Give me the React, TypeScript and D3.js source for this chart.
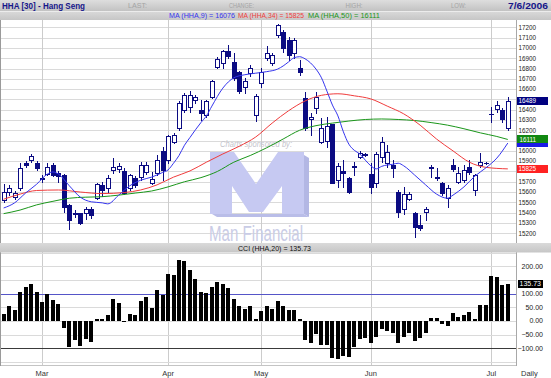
import React from "react";
import * as d3 from "d3";

// ---------- data ----------
const opens = [15520,15600,15550,15640,15885,15910,15885,15740,15780,15860,
15785,15765,15475,15385,15395,15400,15440,15545,15670,15635,
15815,15820,15800,15640,15735,15745,15795,15690,15785,16000,
15910,16090,16220,16395,16430,16495,16395,16350,16520,16820,
16850,16975,16860,16770,16625,16755,16350,16655,16905,16850,
17125,17160,17080,16950,16810,16510,16305,16415,16090,16095,
16260,15715,15805,15735,15855,15940,15965,15775,15685,15945,
15880,15860,15605,15440,15530,15400,15280,15410,15845,15750,
15690,15540,15860,15700,15715,15840,15620,15860,15880,16360,
16405,16395,16220];
const highs = [15680,15670,15610,15880,15900,15970,15900,15765,15880,15880,
15800,15775,15480,15425,15400,15450,15450,15690,15700,15770,
15930,15885,15830,15780,15760,15895,15895,15795,15960,16035,
16155,16170,16480,16565,16585,16545,16495,16495,16690,16910,
16980,17030,16950,16780,16705,16830,16555,16805,17015,16955,
17235,17175,17110,17095,16885,16575,16370,16575,16320,16330,
16265,15880,15910,15745,15895,16000,15975,15880,15990,16135,
16055,15910,15620,15650,15600,15410,15375,15450,15860,15830,
15700,15670,15920,15840,15860,15910,15780,15975,15890,16430,
16480,16415,16525];
const lows = [15500,15570,15535,15620,15840,15890,15815,15700,15770,15755,
15700,15405,15240,15355,15290,15340,15350,15530,15560,15600,
15785,15795,15580,15620,15650,15715,15780,15680,15770,15715,
15880,16075,16200,16380,16380,16470,16300,16330,16510,16805,
16805,16900,16690,16560,16560,16730,16290,16625,16885,16830,
17110,16960,16885,16900,16740,16205,16155,16365,16075,16035,
15685,15650,15645,15590,15765,15930,15950,15590,15650,15890,
15845,15745,15360,15390,15520,15165,15230,15325,15750,15715,
15570,15455,15805,15685,15700,15780,15570,15845,15870,16285,
16380,16285,16205];
const closes = [15600,15640,15590,15835,15860,15950,15830,15725,15845,15765,
15760,15455,15325,15400,15295,15440,15375,15675,15620,15735,
15845,15850,15590,15765,15670,15860,15860,15725,15910,15815,
16140,16155,16465,16545,16545,16525,16370,16480,16675,16895,
16975,16925,16705,16585,16680,16805,16535,16770,16950,16930,
17225,17000,16930,17080,16770,16220,16330,16520,16220,16240,
15690,15855,15785,15605,15845,15980,15960,15645,15970,16090,
15990,15835,15410,15585,15585,15260,15250,15440,15830,15735,
15595,15635,15820,15785,15815,15795,15765,15895,15885,16355,
16445,16305,16489];

const cci = [27,54,39,107,125,137,105,69,99,77,
62,-24,-95,-69,-92,-65,-77,8,6,24,
80,65,2,27,21,75,87,48,115,95,
173,170,225,218,188,154,105,104,123,144,
136,120,80,54,45,54,6,38,56,45,
74,54,42,42,6,-71,-80,-48,-89,-87,
-135,-140,-127,-133,-95,-65,-62,-80,-57,-30,
-36,-42,-80,-60,-42,-74,-63,-45,12,10,
-10,-18,30,14,21,32,8,60,57,164,
162,133,135.73];

// moving averages (bar index -> value)
const ma9Idx = [0,2,4,6,8,9,10,12,14,16,18,19,21,23,25,27,29,30,31,32,33,34,35,36,37,38,40,41,42,44,46,48,50,51,52,53,54,55,56,57,58,59,60,61,62,63,64,65,66,67,68,69,71,72,73,75,77,79,81,82,84,86,88,90,92];
const ma9Val = [15445,15495,15590,15675,15775,15795,15775,15660,15550,15505,15495,15485,15570,15660,15715,15745,15790,15815,15880,15955,16055,16130,16205,16275,16340,16435,16610,16670,16710,16740,16755,16770,16795,16825,16865,16905,16915,16895,16855,16795,16710,16580,16445,16340,16185,16065,16005,15970,15910,15855,15825,15850,15870,15880,15855,15765,15670,15580,15540,15570,15650,15755,15835,15930,16076];
const ma34Idx = [0,3,6,10,14,18,22,25,28,31,34,37,40,43,46,49,52,55,58,61,64,67,70,73,76,79,82,85,88,92];
const ma34Val = [15530,15580,15615,15620,15600,15585,15595,15620,15670,15745,15805,15890,15970,16045,16135,16270,16390,16485,16540,16555,16535,16505,16435,16360,16250,16115,16000,15890,15840,15825];
const ma50Idx = [0,3,6,9,12,15,18,21,24,27,30,33,36,39,42,45,48,51,54,57,60,63,66,69,72,75,78,81,84,87,90,92];
const ma50Val = [15390,15425,15475,15510,15540,15550,15555,15570,15590,15610,15650,15700,15740,15800,15890,15955,16030,16115,16200,16245,16270,16290,16305,16310,16305,16295,16275,16250,16215,16175,16140,16111];

const monthLabels = ["Mar", "Apr", "May", "Jun", "Jul"];
const monthStart = [7, 30, 47, 67, 89];
const priceTicks = [15200,15300,15400,15500,15600,15700,15800,15900,16000,16100,16200,16300,16400,16500,16600,16700,16800,16900,17000,17100,17200];
const cciTicks = [200, 150, 100, 50, 0, -50, -100];
const cciGrid = [250, 200, 150, 50, 0, -50, -150];

const titleText = "HHA [30] - Hang Seng";
const dateText = "7/6/2006";
const headerFields = ["LAST:", "CHANGE:", "HIGH:", "LOW:"];

// ---------- drawing ----------
const FONT = "'Liberation Sans', Arial, Helvetica, sans-serif";
const NAVY = "#0b0b82";
const BLUE = "#3535ee";
const RED = "#f03c3c";
const GREEN = "#1a961a";

export default function App() {
  const W = 551, H = 378;
  const plotR = 517;
  const n = closes.length;
  const x = d3.scaleLinear().domain([0, n - 1]).range([3.64, 507.8]);
  const y = d3.scaleLinear().domain([15200, 17200]).range([233.2, 27.4]);
  const yc = d3.scaleLinear().domain([-100, 200]).range([348.4, 266.4]);
  const snap = (v: number) => Math.round(v) + 0.5;

  const maPath = (idx: number[], vals: number[]) =>
    d3.line<number>().x((_, k) => x(idx[k])).y((v) => y(v)).curve(d3.curveMonotoneX)(vals) || "";

  const fmt2 = d3.format(".2f");
  const last = n - 1;
  const ma9Last = ma9Val[ma9Val.length - 1];
  const ma34Last = ma34Val[ma34Val.length - 1];
  const ma50Last = ma50Val[ma50Val.length - 1];
  const cciLast = cci[last];

  const headerX = [128, 229, 345.5, 451];
  const headerLen = [19, 25, 17, 15];

  // values shown in boxes on the price axis; ticks hidden under them are skipped
  const boxVals = [closes[last], ma9Last, ma50Last, ma34Last];
  const visibleTicks = priceTicks.filter((t) => boxVals.every((b) => Math.abs(y(t) - y(b)) > 5.5));
  const cciVisibleTicks = cciTicks.filter((t) => Math.abs(yc(t) - yc(cciLast)) > 5.5);

  const priceBox = (v: number, fill: string, key: string, label: boolean) => {
    const yy = y(v);
    return (
      <g key={key}>
        <rect x={517} y={Math.round(yy) - 4} width={31} height={8} fill={fill} shapeRendering="crispEdges" />
        {label && <text x={536} y={yy + 2.3} fontSize={6.3} fill="#fff" textAnchor="end">{Math.round(v)}</text>}
      </g>
    );
  };

  return (
    <svg width={W} height={H} viewBox={`0 0 ${W} ${H}`} style={{ position: "absolute", left: 0, top: 0, display: "block" }} fontFamily={FONT}>
      <defs>
        <linearGradient id="hdr1" x1="0" y1="0" x2="0" y2="1">
          <stop offset="0" stopColor="#dedede" />
          <stop offset="1" stopColor="#c2c2c2" />
        </linearGradient>
        <linearGradient id="hdr2" x1="0" y1="0" x2="0" y2="1">
          <stop offset="0" stopColor="#dadada" />
          <stop offset="1" stopColor="#c6c6c6" />
        </linearGradient>
        <clipPath id="plotClip"><rect x={1} y={20} width={plotR - 1} height={222} /></clipPath>
      </defs>
      <rect x={0} y={0} width={W} height={H} fill="#fff" />

      {/* grid */}
      <g shapeRendering="crispEdges">
        {priceTicks.map((t) => (
          <line key={"pg" + t} x1={1} x2={plotR} y1={snap(y(t))} y2={snap(y(t))} stroke="#dadada" />
        ))}
        {monthStart.map((m, k) => (
          <g key={"vg" + k}>
            <line x1={snap(x(m))} x2={snap(x(m))} y1={20} y2={243} stroke="#cccccc" />
            <line x1={snap(x(m))} x2={snap(x(m))} y1={252} y2={366} stroke="#cccccc" />
          </g>
        ))}
        {cciGrid.map((t) => (
          <line key={"cg" + t} x1={1} x2={plotR} y1={snap(yc(t))} y2={snap(yc(t))} stroke="#dadada" />
        ))}
        <line x1={1} x2={plotR} y1={snap(yc(100))} y2={snap(yc(100))} stroke="#5555c8" />
        <line x1={1} x2={plotR} y1={snap(yc(-100))} y2={snap(yc(-100))} stroke="#3a3a3a" />
        <line x1={0} x2={plotR} y1={365.5} y2={365.5} stroke="#c4c4c4" />
        <line x1={0.5} x2={0.5} y1={20} y2={366} stroke="#9a9a9a" />
        <line x1={516.5} x2={516.5} y1={20} y2={243} stroke="#a8a8a8" />
        <line x1={516.5} x2={516.5} y1={252} y2={366} stroke="#a8a8a8" />
      </g>

      {/* watermark */}
      <g>
        <text x={220} y={147} fontSize={8.5} fontStyle="italic" fill="#c4c4cc" textLength={72} lengthAdjust="spacingAndGlyphs">Charts sponsored by:</text>
        <polygon points="304,155 309,158 309,217 304,214" fill="#b3b7e4" />
        <polygon points="212,214 304,214 309,217 217,217" fill="#b9bde8" />
        <polygon points="210,152 234,152 256,184 278,152 304,152 304,214 282,214 282,186 263,212 249,212 232,186 232,214 210,214" fill="#c6c9f2" />
        <text x={209} y={241} fontSize={22} fill="#c9cce6" textLength={94} lengthAdjust="spacingAndGlyphs">Man Financial</text>
      </g>

      {/* candles */}
      <g shapeRendering="crispEdges">
        {closes.map((c, i) => {
          const o = opens[i], h = highs[i], l = lows[i];
          const cx = Math.round(x(i));
          const up = c >= o;
          const yTop = snap(y(Math.max(o, c)));
          const yBot = snap(y(Math.min(o, c)));
          return (
            <g key={"c" + i}>
              <line x1={cx + 0.5} x2={cx + 0.5} y1={Math.round(y(h))} y2={Math.round(y(l)) + 1} stroke={NAVY} />
              {yBot - yTop < 1 ? (
                <line x1={cx - 2} x2={cx + 3} y1={yTop} y2={yTop} stroke={NAVY} />
              ) : (
                <rect x={cx - 1.5} y={yTop} width={4} height={yBot - yTop} fill={up ? "#ffffff" : NAVY} stroke={NAVY} />
              )}
            </g>
          );
        })}
      </g>

      {/* moving averages */}
      <g clipPath="url(#plotClip)" fill="none" strokeWidth={1}>
        <path d={maPath(ma50Idx, ma50Val)} stroke={GREEN} />
        <path d={maPath(ma34Idx, ma34Val)} stroke={RED} />
        <path d={maPath(ma9Idx, ma9Val)} stroke={BLUE} />
      </g>

      {/* CCI bars */}
      <g shapeRendering="crispEdges">
        {cci.map((v, i) => {
          const cx = Math.round(x(i));
          const y0 = Math.round(yc(0));
          const yv = Math.round(yc(v));
          return <rect key={"b" + i} x={cx - 2} y={Math.min(y0, yv)} width={4} height={Math.max(1, Math.abs(yv - y0))} fill="#000" />;
        })}
      </g>

      {/* header bars */}
      <rect x={0} y={0} width={W} height={11} fill="url(#hdr1)" />
      <rect x={0} y={11} width={W} height={9} fill="url(#hdr2)" />
      <line x1={0} x2={W} y1={11.5} y2={11.5} stroke="#ececec" shapeRendering="crispEdges" />
      <text x={2} y={8.6} fontSize={9} fontWeight="bold" fill="#16168a" textLength={83} lengthAdjust="spacingAndGlyphs">{titleText}</text>
      {headerFields.map((f, k) => (
        <text key={f} x={headerX[k]} y={8.3} fontSize={7} fill="#a4a4a4" textLength={headerLen[k]} lengthAdjust="spacingAndGlyphs">{f}</text>
      ))}
      <text x={508} y={8.6} fontSize={9} fontWeight="bold" fill="#16168a" textLength={40} lengthAdjust="spacingAndGlyphs">{dateText}</text>
      <text x={169} y={18.3} fontSize={7} fill={BLUE} textLength={66} lengthAdjust="spacingAndGlyphs">{`MA (HHA,9) = ${ma9Last}`}</text>
      <text x={238} y={18.3} fontSize={7} fill={RED} textLength={66} lengthAdjust="spacingAndGlyphs">{`MA (HHA,34) = ${ma34Last}`}</text>
      <text x={308} y={18.3} fontSize={7} fill={GREEN} textLength={72} lengthAdjust="spacingAndGlyphs">{`MA (HHA,50) = ${ma50Last}`}</text>

      {/* CCI header bar */}
      <rect x={0} y={243} width={W} height={9.5} fill="url(#hdr2)" />
      <text x={238} y={250.6} fontSize={7} fill="#111" textLength={73} lengthAdjust="spacingAndGlyphs">{`CCI (HHA,20) = ${fmt2(cciLast)}`}</text>

      {/* right price axis */}
      {visibleTicks.map((t) => (
        <text key={"pt" + t} x={536} y={y(t) + 2.3} fontSize={6.3} fill="#222" textAnchor="end">{t}</text>
      ))}
      {priceBox(closes[last], "#000080", "lastbox", true)}
      {priceBox(ma9Last, "#1a1ae6", "ma9box", false)}
      {priceBox(ma50Last, "#118811", "ma50box", true)}
      {priceBox(ma34Last, "#ff2222", "ma34box", true)}

      {/* right CCI axis */}
      {cciVisibleTicks.map((t) => (
        <text key={"ct" + t} x={543} y={yc(t) + 2.4} fontSize={7} fill="#222" textAnchor="end">{fmt2(t)}</text>
      ))}
      <rect x={517.5} y={Math.round(yc(cciLast)) - 4} width={25} height={8} fill="#000" shapeRendering="crispEdges" />
      <text x={541} y={yc(cciLast) + 2.4} fontSize={7} fill="#fff" textAnchor="end">{fmt2(cciLast)}</text>

      {/* month axis */}
      {monthLabels.map((m, k) => (
        <text key={m} x={x(monthStart[k])} y={375.5} fontSize={7.5} fill="#333" textAnchor="middle">{m}</text>
      ))}
      <text x={521} y={375.5} fontSize={7.5} fill="#333">Daily</text>
    </svg>
  );
}
